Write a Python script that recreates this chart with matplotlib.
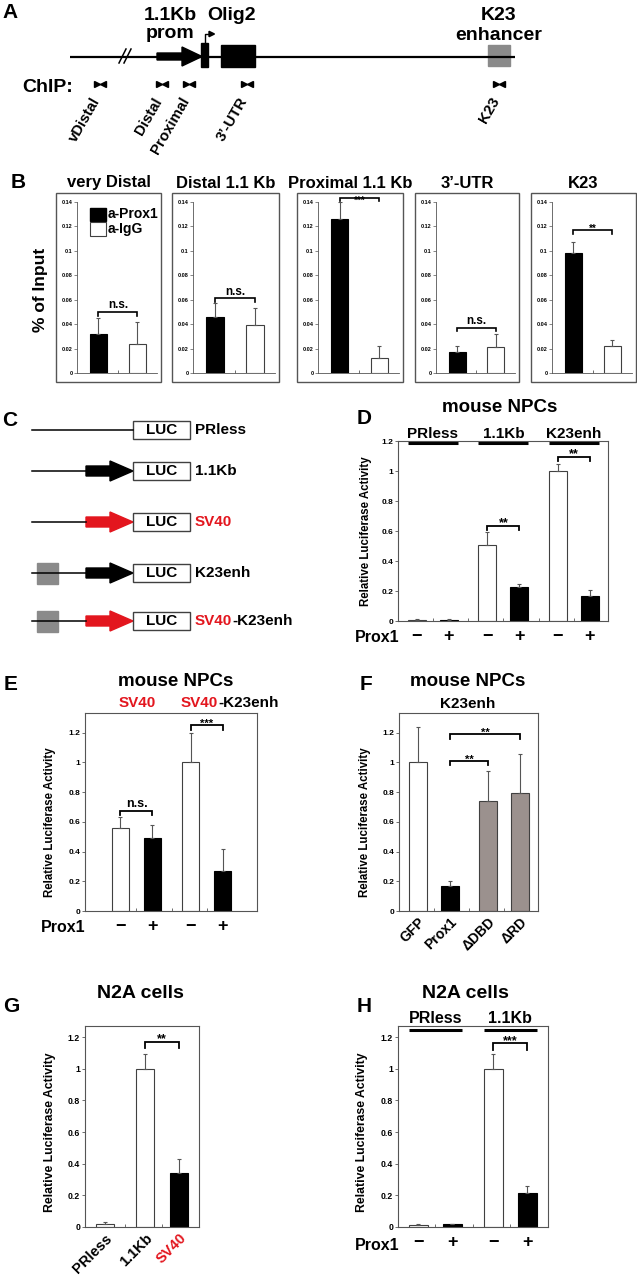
import matplotlib
matplotlib.use('Agg')
import matplotlib.pyplot as plt
from matplotlib.patches import Rectangle, Polygon

plt.rcParams['font.family'] = ['Liberation Sans', 'DejaVu Sans']
plt.rcParams['font.weight'] = 'bold'

# ---------------- data ----------------
chip_regions = ['very Distal', 'Distal 1.1 Kb', 'Proximal 1.1 Kb', '3\u2019-UTR', 'K23']
chip_prox1 = [0.032, 0.046, 0.126, 0.017, 0.098]
chip_prox1_err = [0.013, 0.011, 0.014, 0.005, 0.009]
chip_igg = [0.024, 0.039, 0.012, 0.021, 0.022]
chip_igg_err = [0.018, 0.014, 0.010, 0.011, 0.005]
chip_sig = ['n.s.', 'n.s.', '***', 'n.s.', '**']
chip_yticks = [0, 0.02, 0.04, 0.06, 0.08, 0.1, 0.12, 0.14]

primer_names = ['vDistal', 'Distal', 'Proximal', '3\u2019-UTR', 'K23']

d_groups = ['PRless', '1.1Kb', 'K23enh']
d_minus = [0.01, 0.51, 1.00]
d_minus_err = [0.003, 0.085, 0.05]
d_plus = [0.01, 0.23, 0.165]
d_plus_err = [0.003, 0.02, 0.045]
d_sig = ['', '**', '**']

e_groups = ['SV40', 'SV40-K23enh']
e_minus = [0.56, 1.00]
e_minus_err = [0.07, 0.20]
e_plus = [0.49, 0.27]
e_plus_err = [0.09, 0.15]
e_sig = ['n.s.', '***']

f_labels = ['GFP', 'Prox1', '\u0394DBD', '\u0394RD']
f_vals = [1.00, 0.17, 0.74, 0.795]
f_err = [0.24, 0.03, 0.20, 0.265]

g_labels = ['PRless', '1.1Kb', 'SV40']
g_vals = [0.02, 1.00, 0.34]
g_err = [0.01, 0.09, 0.09]

h_groups = ['PRless', '1.1Kb']
h_minus = [0.015, 1.00]
h_minus_err = [0.005, 0.09]
h_plus = [0.018, 0.215]
h_plus_err = [0.004, 0.045]
h_sig = ['', '***']

luc_yticks = [0, 0.2, 0.4, 0.6, 0.8, 1, 1.2]
prox1_signs = ['\u2212', '+']

# ---------------- styles ----------------
RED = '#e3161e'
ENH_GRAY = '#8a8a8a'
MUT_GRAY = '#9b918e'
EDGE = '#404040'
ERR = '#555555'
FRAME = '#555555'

W, H = 637, 1280
fig = plt.figure(figsize=(W / 100, H / 100), dpi=100)
ov = fig.add_axes([0, 0, 1, 1])
ov.set_xlim(0, W)
ov.set_ylim(H, 0)
ov.axis('off')


def add_ax(x0, y0, x1, y1):
    a = fig.add_axes([x0 / W, 1 - y1 / H, (x1 - x0) / W, (y1 - y0) / H])
    a.patch.set_visible(False)
    return a


def frame(ax, sides=('left', 'right', 'top', 'bottom'), lw=0.8):
    for k, s in ax.spines.items():
        if k in sides:
            s.set_color(FRAME)
            s.set_linewidth(lw)
        else:
            s.set_visible(False)


def positions(sizes, gap=0.2):
    out, start = [], 0.0
    for n in sizes:
        out.append([start + j for j in range(n)])
        start += n + gap
    return out


def draw_bars(ax, xs, vals, errs, colors, width, capsize=1.5):
    for x, v, e, c in zip(xs, vals, errs, colors):
        ec = 'black' if c == 'black' else EDGE
        ax.bar(x, v, width=width, color=c, edgecolor=ec, linewidth=0.8, zorder=2)
        ax.errorbar(x, v, yerr=[[0], [e]], fmt='none', ecolor=ERR, elinewidth=0.8,
                    capsize=capsize, capthick=0.8, zorder=3)


def bracket(ax, x1, x2, y, drop, label, fs, lw=1.3, below=False):
    ax.plot([x1, x1, x2, x2], [y - drop, y, y, y - drop], color='black', lw=lw,
            clip_on=False, zorder=4, solid_joinstyle='miter')
    star = label.startswith('*')
    if below:
        ax.annotate(label, ((x1 + x2) / 2, y), xytext=(0, 1.5), textcoords='offset points',
                    ha='center', va='top', fontsize=fs, fontweight='bold', annotation_clip=False)
    else:
        ax.annotate(label, ((x1 + x2) / 2, y), xytext=(0, -2.5 if star else 0.5),
                    textcoords='offset points', ha='center', va='bottom', fontsize=fs,
                    fontweight='bold', annotation_clip=False)


def luc_yaxis(ax, ytop, fs=6):
    ax.set_ylim(0, ytop)
    ax.set_yticks(luc_yticks, [f'{t:g}' for t in luc_yticks])
    ax.tick_params(axis='y', labelsize=fs, length=2, width=0.6, pad=1.5, color=FRAME)


def minor_x(ax, xs):
    mids = [(a + b) / 2 for a, b in zip(xs[:-1], xs[1:])]
    ax.set_xticks(mids, minor=True)
    ax.tick_params(axis='x', which='minor', length=2, width=0.6, direction='in', color=FRAME)


def ylabel_at(x, ax_box, ytop, text, fs):
    x0, y0, x1, y1 = ax_box
    yc = y1 - 0.6 / ytop * (y1 - y0)
    ov.text(x, yc, text, rotation=90, ha='center', va='center', fontsize=fs)


def multi_text(x, y, parts, fs):
    r = fig.canvas.get_renderer()
    for s, c in parts:
        t = ov.text(x, y, s, color=c, ha='left', va='center', fontsize=fs)
        x = t.get_window_extent(r).x1


LETTER_FS = 15

# ================= Panel A =================
LY = 56.5
ov.plot([70, 515], [LY, LY], color='black', lw=1.6, solid_capstyle='butt')
for dx in (0, 5):
    ov.plot([119 + dx, 126 + dx], [63, 49], color='black', lw=1.1)
ov.add_patch(Polygon([(157, 53), (182, 53), (182, 47), (202, LY), (182, 66), (182, 60), (157, 60)],
                     closed=True, color='black'))
ov.add_patch(Rectangle((201, 43), 7, 24, color='black'))
ov.plot([204.5, 204.5, 210], [43, 34, 34], color='black', lw=1.0)
ov.add_patch(Polygon([(209, 31.3), (214.5, 34), (209, 36.7)], closed=True, color='black'))
ov.add_patch(Rectangle((221, 45), 34, 22, color='black'))
ov.add_patch(Rectangle((488, 45), 22, 21, color=ENH_GRAY))
ov.text(10.5, 13, 'A', ha='center', va='center', fontsize=LETTER_FS)
ov.text(170, 15, '1.1Kb', ha='center', va='center', fontsize=14)
ov.text(170, 34, 'prom', ha='center', va='center', fontsize=14)
ov.text(232, 15, 'Olig2', ha='center', va='center', fontsize=14)
ov.text(499, 16, 'K23', ha='center', va='center', fontsize=14)
ov.text(499, 35, 'enhancer', ha='center', va='center', fontsize=14)
ov.text(22, 87, 'ChIP:', ha='left', va='center', fontsize=14)
primer_x = [100, 162, 189, 247, 499]
for px, name in zip(primer_x, primer_names):
    ov.plot([px - 3.3], [84], marker='>', color='black', markersize=4, linestyle='none')
    ov.plot([px + 3.3], [84], marker='<', color='black', markersize=4, linestyle='none')
    ov.text(px + 3, 95, name, rotation=60, ha='right', va='top', fontsize=10.8)

# ================= Panel B =================
box_left = [56, 172, 297, 415, 531]
box_right = [161, 279, 403, 519, 636]
BOX_TOP, BOX_BOT = 193, 382
AX_TOP, AX_BOT = 202, 373
chip_levels = [0.050, 0.061, 0.1435, 0.037, 0.117]
ov.text(18, 183, 'B', ha='center', va='center', fontsize=LETTER_FS)
ov.text(40, 290, '% of Input', rotation=90, ha='center', va='center', fontsize=12.5)
for i, region in enumerate(chip_regions):
    L, R = box_left[i], box_right[i]
    ov.add_patch(Rectangle((L, BOX_TOP), R - L, BOX_BOT - BOX_TOP, fill=False, ec=FRAME, lw=1.0))
    ov.text((L + R) / 2, 183, region, ha='center', va='center', fontsize=12)
    ax = add_ax(L + 21, AX_TOP, R - 4, AX_BOT)
    draw_bars(ax, [0, 1], [chip_prox1[i], chip_igg[i]], [chip_prox1_err[i], chip_igg_err[i]],
              ['black', 'white'], 0.44, capsize=1.2)
    ax.set_xlim(-0.55, 1.5)
    ax.set_ylim(0, 0.14)
    frame(ax, ('left', 'bottom'), lw=0.6)
    ax.set_yticks(chip_yticks, [f'{t:g}' for t in chip_yticks])
    ax.tick_params(axis='y', labelsize=4, length=2, width=0.5, pad=1, color=FRAME)
    ax.set_xticks([])
    minor_x(ax, [0, 1])
    sig = chip_sig[i]
    bracket(ax, 0, 1, chip_levels[i], 0.003, sig, 8.5 if sig == 'n.s.' else 7, lw=1.2,
            below=(chip_levels[i] > 0.14))
ov.add_patch(Rectangle((90, 208), 16, 13, color='black'))
ov.add_patch(Rectangle((90, 221.5), 16, 14, fill=False, ec=EDGE, lw=0.8))
ov.text(108, 214.5, 'a-Prox1', ha='left', va='center', fontsize=10)
ov.text(108, 228.5, 'a-IgG', ha='left', va='center', fontsize=10)

# ================= Panel C =================
ov.text(10, 420, 'C', ha='center', va='center', fontsize=LETTER_FS)
row_y = [430, 471, 522, 573, 621]
row_prom = [None, 'black', RED, 'black', RED]
row_enh = [False, False, False, True, True]
row_label = [[('PRless', 'black')], [('1.1Kb', 'black')], [('SV40', RED)],
             [('K23enh', 'black')], [('SV40', RED), ('-K23enh', 'black')]]
for y, pc, en, lab in zip(row_y, row_prom, row_enh, row_label):
    xe = 133 if pc is None else 86
    ov.plot([32, xe], [y, y], color='black', lw=1.1)
    if pc is not None:
        ov.add_patch(Polygon([(86, y - 5), (110, y - 5), (110, y - 10), (133, y), (110, y + 10),
                              (110, y + 5), (86, y + 5)], closed=True, color=pc))
    if en:
        ov.add_patch(Rectangle((37, y - 10.5), 21, 21, color=ENH_GRAY))
    ov.add_patch(Rectangle((133, y - 9), 57, 18, fill=False, ec=EDGE, lw=1.0))
    ov.text(161.5, y, 'LUC', ha='center', va='center', fontsize=11)
    multi_text(195, y, lab, 11)

# ================= Panel D =================
D_BOX = (398, 441, 608, 621)
D_TOP = 1.2
ov.text(364, 418, 'D', ha='center', va='center', fontsize=LETTER_FS)
ov.text(500, 407, 'mouse NPCs', ha='center', va='center', fontsize=13.5)
ax = add_ax(*D_BOX)
pos = positions([2, 2, 2])
xs = [x for g in pos for x in g]
vals, errs, cols = [], [], []
for g in range(len(d_groups)):
    vals += [d_minus[g], d_plus[g]]
    errs += [d_minus_err[g], d_plus_err[g]]
    cols += ['white', 'black']
draw_bars(ax, xs, vals, errs, cols, 0.56)
ax.set_xlim(-0.59, 5.97)
luc_yaxis(ax, D_TOP)
frame(ax)
ax.set_xticks(xs, prox1_signs * len(d_groups), fontsize=13)
ax.tick_params(axis='x', which='major', length=0, pad=5)
minor_x(ax, xs)
d_levels = [0, 0.635, 1.095]
for g, name in enumerate(d_groups):
    a, b = pos[g]
    ax.plot([a - 0.28, b + 0.28], [0.989, 0.989], transform=ax.get_xaxis_transform(),
            color='black', lw=2.2, clip_on=False, solid_capstyle='butt')
    ax.text((a + b) / 2, 1.039, name, transform=ax.get_xaxis_transform(), ha='center',
            va='center', fontsize=11)
    if d_sig[g]:
        bracket(ax, a, b, d_levels[g], 0.025, d_sig[g], 9)
ylabel_at(366, D_BOX, D_TOP, 'Relative Luciferase Activity', 8.3)
ov.text(400, 637, 'Prox1', ha='right', va='center', fontsize=11.5)

# ================= Panel E =================
E_BOX = (85, 713, 257, 911)
E_TOP = 1.333
ov.text(11, 685, 'E', ha='center', va='center', fontsize=LETTER_FS)
ov.text(176, 682, 'mouse NPCs', ha='center', va='center', fontsize=13.5)
ov.text(137, 703, 'SV40', ha='center', va='center', fontsize=11, color=RED)
multi_text(181, 703, [('SV40', RED), ('-K23enh', 'black')], 11)
ax = add_ax(*E_BOX)
pos = positions([2, 2])
xs = [x for g in pos for x in g]
vals, errs, cols = [], [], []
for g in range(len(e_groups)):
    vals += [e_minus[g], e_plus[g]]
    errs += [e_minus_err[g], e_plus_err[g]]
    cols += ['white', 'black']
draw_bars(ax, xs, vals, errs, cols, 0.53)
ax.set_xlim(-1.11, 4.27)
luc_yaxis(ax, E_TOP)
frame(ax)
ax.set_xticks(xs, prox1_signs * len(e_groups), fontsize=13)
ax.tick_params(axis='x', which='major', length=0, pad=5)
minor_x(ax, xs)
e_levels = [0.675, 1.25]
for g in range(len(e_groups)):
    a, b = pos[g]
    bracket(ax, a, b, e_levels[g], 0.03, e_sig[g], 9 if e_sig[g] == 'n.s.' else 8)
ylabel_at(50, E_BOX, E_TOP, 'Relative Luciferase Activity', 8.3)
ov.text(85, 928, 'Prox1', ha='right', va='center', fontsize=11.5)

# ================= Panel F =================
F_BOX = (399, 713, 538, 911)
ov.text(366, 685, 'F', ha='center', va='center', fontsize=LETTER_FS)
ov.text(468, 682, 'mouse NPCs', ha='center', va='center', fontsize=13.5)
ov.text(468, 704, 'K23enh', ha='center', va='center', fontsize=11)
ax = add_ax(*F_BOX)
pos = positions([2, 2])
xs = [x for g in pos for x in g]
draw_bars(ax, xs, f_vals, f_err, ['white', 'black', MUT_GRAY, MUT_GRAY], 0.56)
ax.set_xlim(-0.59, 3.75)
luc_yaxis(ax, E_TOP)
frame(ax)
ax.set_xticks(xs, f_labels, fontsize=10, rotation=45, ha='right', rotation_mode='anchor')
ax.tick_params(axis='x', which='major', length=0, pad=3)
minor_x(ax, xs)
bracket(ax, xs[1], xs[2], 1.01, 0.03, '**', 8)
bracket(ax, xs[1], xs[3], 1.19, 0.03, '**', 8)
ylabel_at(365, F_BOX, E_TOP, 'Relative Luciferase Activity', 8.3)

# ================= Panel G =================
G_BOX = (85, 1026, 199, 1227)
G_TOP = 1.27
ov.text(11, 1007, 'G', ha='center', va='center', fontsize=LETTER_FS)
ov.text(140, 994, 'N2A cells', ha='center', va='center', fontsize=14)
ax = add_ax(*G_BOX)
pos = positions([1, 2])
xs = [x for g in pos for x in g]
draw_bars(ax, xs, g_vals, g_err, ['white', 'white', 'black'], 0.53)
ax.set_xlim(-0.59, 2.79)
luc_yaxis(ax, G_TOP, fs=6.3)
frame(ax)
ax.set_xticks(xs, g_labels, fontsize=10.5, rotation=45, ha='right', rotation_mode='anchor')
ax.get_xticklabels()[2].set_color(RED)
ax.tick_params(axis='x', which='major', length=0, pad=3)
minor_x(ax, xs)
bracket(ax, xs[1], xs[2], 1.17, 0.04, '**', 9)
ylabel_at(50, G_BOX, G_TOP, 'Relative Luciferase Activity', 8.8)

# ================= Panel H =================
H_BOX = (398, 1026, 548, 1227)
ov.text(364, 1007, 'H', ha='center', va='center', fontsize=LETTER_FS)
ov.text(465, 994, 'N2A cells', ha='center', va='center', fontsize=14)
ax = add_ax(*H_BOX)
pos = positions([2, 2])
xs = [x for g in pos for x in g]
vals, errs, cols = [], [], []
for g in range(len(h_groups)):
    vals += [h_minus[g], h_plus[g]]
    errs += [h_minus_err[g], h_plus_err[g]]
    cols += ['white', 'black']
draw_bars(ax, xs, vals, errs, cols, 0.56)
ax.set_xlim(-0.6, 3.81)
luc_yaxis(ax, G_TOP, fs=6.3)
frame(ax)
ax.set_xticks(xs, prox1_signs * len(h_groups), fontsize=13)
ax.tick_params(axis='x', which='major', length=0, pad=5)
minor_x(ax, xs)
for g, name in enumerate(h_groups):
    a, b = pos[g]
    ax.plot([a - 0.28, b + 0.28], [0.98, 0.98], transform=ax.get_xaxis_transform(),
            color='black', lw=2.2, clip_on=False, solid_capstyle='butt')
    ax.text((a + b) / 2, 1.035, name, transform=ax.get_xaxis_transform(), ha='center',
            va='center', fontsize=11.5)
    if h_sig[g]:
        bracket(ax, a, b, 1.16, 0.04, h_sig[g], 9)
ylabel_at(362, H_BOX, G_TOP, 'Relative Luciferase Activity', 8.8)
ov.text(400, 1245, 'Prox1', ha='right', va='center', fontsize=11.5)

fig.savefig('out.png', dpi=100)
